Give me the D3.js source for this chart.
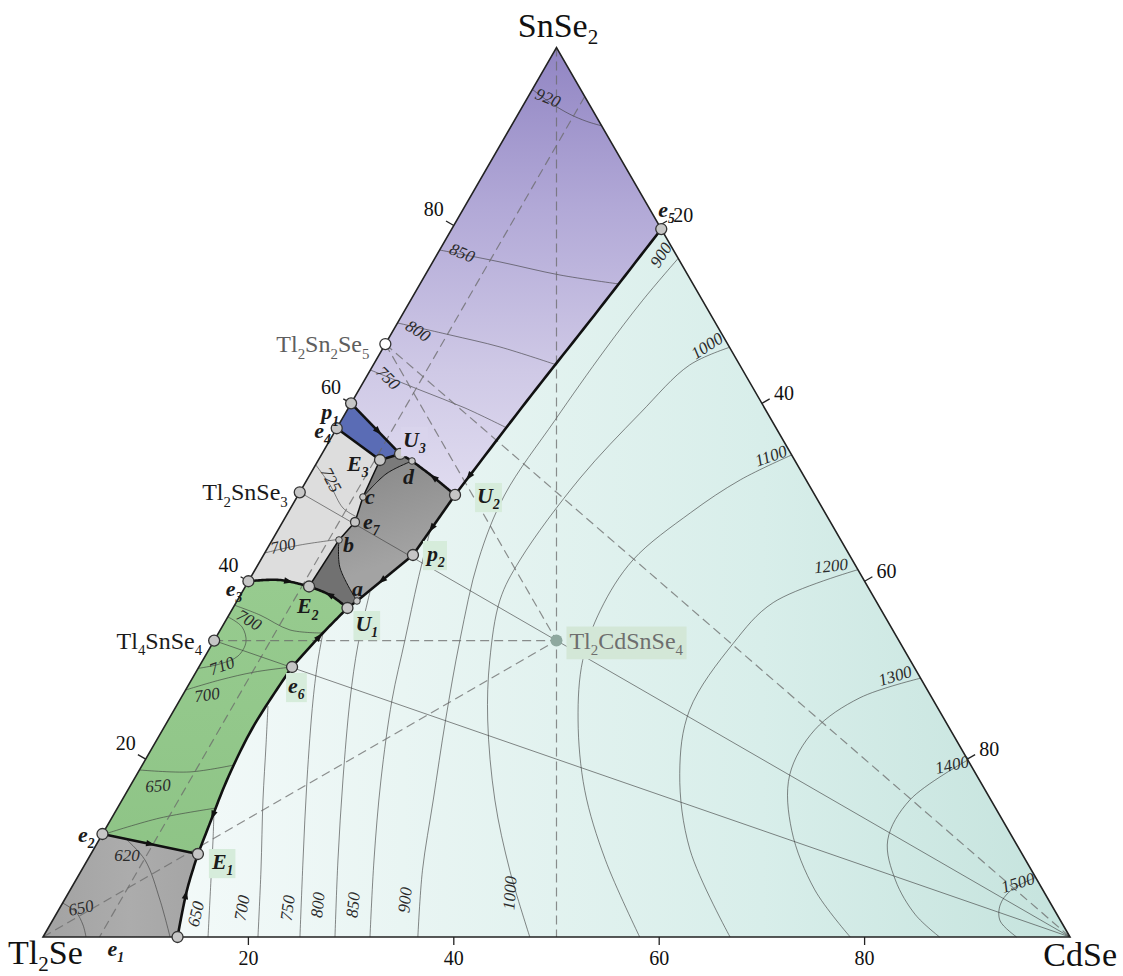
<!DOCTYPE html>
<html><head><meta charset="utf-8">
<script src="https://d3js.org/d3.v7.min.js"></script>
<style>
html,body{margin:0;padding:0;background:#fff;}
svg{display:block;}
</style></head><body>
<svg id="chart" width="1123" height="976" xmlns="http://www.w3.org/2000/svg"></svg>
<script>
// ================= DATA (compositions in mol %: [CdSe, SnSe2]) =================
const cornerNames = ["Tl2Se", "CdSe", "SnSe2"];
const cornerCd = [0, 100, 0];
const cornerSn = [0, 0, 100];

const pointNames = ["e1","e2","e3","e4","e5","e6","e7","E1","E2","E3","U1","U2","U3","p1","p2","a","b","c","d"];
const pointCd    = [13.1, 0, 0, 0, 20.4, 9.07, 7.05, 10.42, 6.2, 6.0, 11.15, 15.27, 7.61, 0, 14.55, 11.68, 6.5, 6.42, 9.17];
const pointSn    = [0, 11.58, 40, 57.2, 79.6, 30.36, 46.66, 9.33, 39.41, 53.63, 36.99, 49.7, 54.31, 60, 42.95, 37.78, 44.64, 49.47, 53.52];

const compoundNames = ["Tl2Sn2Se5", "Tl2SnSe3", "Tl4SnSe4", "Tl2CdSnSe4"];
const compoundCd = [0, 0, 0, 33.33];
const compoundSn = [66.67, 50, 33.33, 33.33];

const tickValues = [20, 40, 60, 80];

// boundary curves between primary crystallization fields
const boundaryKeys = ["e5_U2","U2_p2","p2_a","a_U1","U1_e6","e6_E1","E1_e1","e2_E1","e3_E2","E2_U1","E2_b","b_e7","e7_c","c_E3","a_b","E3_U3","U3_d","d_U2","p1_U3","e4_E3","c_d"];
const boundaryPts = [
  ["e5", [18.8, 70.3], [17.0, 60.4], "U2"],
  ["U2", "p2"],
  ["p2", "a"],
  ["a", "U1"],
  ["U1", [10.05, 33.84], "e6"],
  ["e6", [8.65, 23.61], [9.09, 17.65], [9.85, 12.82], "E1"],
  ["E1", [11.38, 5.28], "e1"],
  ["e2", "E1"],
  ["e3", [3.0, 40.14], "E2"],
  ["E2", [8.72, 38.45], "U1"],
  ["E2", "b"],
  ["b", "e7"],
  ["e7", "c"],
  ["c", "E3"],
  ["a", [8.1, 41.6], "b"],
  ["E3", "U3"],
  ["U3", "d"],
  ["d", [11.96, 51.83], "U2"],
  ["p1", "U3"],
  ["e4", "E3"],
  ["c", [7.4, 52.1], "d"]
];
const thickBoundaries = ["e5_U2","U2_p2","p2_a","a_U1","U1_e6","e6_E1","E1_e1","e2_E1","e3_E2","E2_U1","E3_U3","U3_d","d_U2","p1_U3","e4_E3"];
const mediumBoundaries = ["E2_b","b_e7","e7_c","c_E3"];

// isotherms (liquidus), each a list of [CdSe, SnSe2]
const isothermCurves = [
  [[93.3,6.7],[91.6,5.2],[91.4,3.6],[92.3,1.8],[94.8,0]],
  [[80.1,19.9],[76.7,15.4],[76.8,10.9],[79.8,6.4],[83.7,2.5],[87.3,0]],
  [[70.9,29.1],[66.1,26.9],[63.5,23.3],[63.6,18.2],[66.9,12.0],[72.5,5.3],[78.6,0]],
  [[58.7,41.3],[52.3,37.6],[50.7,33.0],[50.2,25.5],[52.8,18.4],[58.1,9.8],[66.9,0]],
  [[45.8,54.2],[42.2,51.4],[39.2,47.7],[36.25,42.4],[35.9,36.8],[37.0,31.1],[39.9,24.4],[44.5,16.5],[50.4,8.7],[58.1,0]],
  [[33.7,66.3],[30.8,64.3],[28.7,58.9],[26.5,51.6],[25.25,42.4],[25.55,37.9],[27.95,31.1],[31.1,24.4],[36.3,15.4],[41.7,7.5],[47.4,0]],
  [[23.7,76.3],[22.6,71.6],[21.7,66.0],[20.8,58.1],[20.1,49.7],[21.2,42.4],[23.9,33.4],[27.0,24.4],[30.3,15.4],[33.2,7.5],[36.5,0]],
  [[14.86,45.65],[16.44,40.14],[18.55,33.39],[20.66,26.65],[24.08,17.65],[27.9,8.66],[31.84,0]],
  [[12.44,38.79],[14.25,32.83],[16.57,26.65],[20.38,17.65],[24.39,8.66],[28.43,0]],
  [[10.17,34.18],[11.21,31.14],[12.97,26.65],[16.88,17.65],[20.99,8.66],[25.02,0]],
  [[8.92,25.97],[10.92,21.59],[13.72,15.4],[17.46,7.53],[20.93,0]],
  [[9.62,14.05],[11.1,10.91],[13.15,6.41],[16.07,0]],
  // SnSe2 field
  [[0,95.3],[2.5,93.8],[5.06,92.5],[7.1,91.7],[8.8,91.2]],
  [[0,77.24],[6.55,75.9],[13.12,74.43],[19.38,73.42]],
  [[0,69.04],[5.79,67.69],[11.33,66.34],[17.89,64.31]],
  [[0,63.75],[5.96,61.5],[11.35,59.48],[16.56,57.23]],
  // Tl4SnSe4 field
  [[0,37.3],[3.03,36.2],[6.79,34.52],[10.08,34.18]],
  [[0,36.0],[1.95,34.86],[3.18,33.17],[3.19,31.59],[1.88,30.7],[0,30.2]],
  [[0,27.77],[2.78,28.9],[5.74,29.8],[9.07,30.36]],
  [[0,18.78],[5.03,18.56],[8.93,19.34]],
  [[0.5,11.7],[4.7,13.38],[9.6,14.5]],
  // Tl2Se field
  [[2.41,11.13],[5.6,8.66],[9.31,4.16],[12.37,0]],
  [[0,3.82],[1.8,2.81],[3.22,1.35],[4.19,0]],
  // Tl2SnSe3 field
  [[0,53.1],[2.54,50.82],[5.1,48.23],[6.8,47.3]],
  [[0,43.18],[2.98,44.07],[6.4,44.7]]
];

const isoLabelText = ["900","1000","1100","1200","1300","1400","1500","650","700","750","800","850","900","1000","920","850","800","750","700","710","700","650","620","650","725","700"];
const isoLabelCd = [21.84,31.43,43.85,55.87,68.29,78.84,91.9, 13.6,17.75,22.2,24.97,28.4,33.17,43.0, 2.0,2.35,2.44,2.17, 2.24,2.19,2.37,2.71, 3.63,2.07, 2.35,1.39];
const isoLabelSn = [76.68,66.45,54.08,41.71,29.35,19.34,6.07, 2.59,3.26,3.26,3.6,3.6,4.16,4.95, 94.33,76.9,68.14,62.85, 35.64,30.47,27.21,16.98, 9.11,3.26, 51.38,43.96];

// tie lines (triangulation)
const dashedLines = [
  [[0,100],[50,0]],
  [[0,33.33],[33.33,33.33]],
  [[0,0],[33.33,33.33]],
  [[0,66.67],[33.33,33.33]],
  [[0,66.67],[100,0]],
  [[5.5,94.5],[5.5,0]]
];
const solidLines = [
  [[0,33.33],[100,0]],
  [[0,50],[100,0]]
];

// arrows on boundaries: [curve, fraction, reversed]
const arrowCurves = ["e2_E1","E1_e1","e6_E1","e3_E2","E2_U1","U1_e6","p2_a","U2_p2","e5_U2","p1_U3","d_U2"];
const arrowPos    = [0.5, 0.5, 0.8, 0.65, 0.5, 0.5, 0.55, 0.55, 0.93, 0.55, 0.5];
const arrowRev    = [false, true, false, false, true, true, false, false, false, false, true];

// ================= STYLE =================
const isoLabelRot = [-57,-33,-20,-6,-17,-12,-17, -76,-80,-82,-84,-84,-84,-86, 22,22,33,45, 30,-20,-8,-5, 0,-12, 62,-12];
const pointOffsets = {
  e1:[-70,19,'start'], E1:[14,15,'start'], e2:[-8,8,'end'], e3:[-6,15,'end'], E2:[-12,27,'start'],
  U1:[8,23,'start'], e6:[-4,26,'start'], p2:[14,6,'start'], a:[-5,-5,'start'], b:[4,12,'start'],
  e7:[8,7,'start'], c:[2,7,'start'], d:[-9,23,'start'], E3:[-33,11,'start'], U3:[3,-7,'start'],
  U2:[22,8,'start'], p1:[-12,16,'end'], e4:[-6,10,'end'], e5:[-3,-12,'start']
};
const greenBgLabels = ["E1","U1","U2","p2","e6"];
const purpleBgLabels = ["U3"];
const smallPoints = ["a","b","c","d"];
const FONT = "'Liberation Serif','Times New Roman',serif";

// ================= SCALES =================
const xS = d3.scaleLinear().domain([0,100]).range([43,1070]);
const yS = d3.scaleLinear().domain([0,100]).range([937, 937 - 1027*Math.sqrt(3)/2]);
const P = c => [xS(c[0] + c[1]/2), yS(c[1])];

const pt = {};
pointNames.forEach((n,i) => pt[n] = [pointCd[i], pointSn[i]]);
const resolve = v => (typeof v === 'string') ? pt[v] : v;
const curves = {};
boundaryKeys.forEach((k,i) => curves[k] = boundaryPts[i].map(resolve));

const svg = d3.select('#chart');
const defs = svg.append('defs');
const curveGen = d3.line().curve(d3.curveCatmullRom.alpha(0.5));
const tmpPath = svg.append('path').attr('visibility','hidden');

function sampleCurve(pts, n) {
  const pix = pts.map(P);
  if (pix.length === 2) return pix;
  tmpPath.attr('d', curveGen(pix));
  const node = tmpPath.node(), L = node.getTotalLength(), out = [];
  for (let i = 0; i <= n; i++) { const p = node.getPointAtLength(L*i/n); out.push([p.x, p.y]); }
  return out;
}
const dense = {};
boundaryKeys.forEach(k => dense[k] = sampleCurve(curves[k], 40));

// ---- gradients
function linGrad(id, x1,y1,x2,y2, stops) {
  const g = defs.append('linearGradient').attr('id', id).attr('gradientUnits','userSpaceOnUse')
    .attr('x1',x1).attr('y1',y1).attr('x2',x2).attr('y2',y2);
  stops.forEach(s => g.append('stop').attr('offset', s[0]).attr('stop-color', s[1]));
}
linGrad('gCd', xS(0), 0, xS(100), 0, [[0,'#f8fcfc'],[0.35,'#e9f5f3'],[0.7,'#d8eeea'],[1,'#c5e3dd']]);
linGrad('gPurple', 0, yS(100), 0, yS(48), [[0,'#9185c3'],[0.35,'#b2a9d7'],[0.7,'#cfc9e6'],[1,'#e2def1']]);
linGrad('gGreen', 0, yS(40), 0, yS(8), [[0,'#97cb8f'],[1,'#8ec486']]);
linGrad('gMed', P(pt.E3)[0], P(pt.E3)[1], P(pt.p2)[0], P(pt.p2)[1], [[0,'#8a8a8a'],[1,'#a3a3a3']]);
linGrad('gBot', xS(0), 0, xS(14), 0, [[0,'#a2a2a2'],[0.6,'#acacac'],[1,'#a6a6a6']]);

// ---- background triangle (CdSe field)
const triPts = cornerNames.map((n,i) => P([cornerCd[i], cornerSn[i]]));
svg.append('path').attr('d', 'M' + triPts.join('L') + 'Z').attr('fill', 'url(#gCd)');

// ---- regions
function buildRegion(seq) {
  let out = [];
  seq.forEach(s => {
    if (typeof s === 'string') {
      const rev = s[0] === '-';
      const arr = dense[rev ? s.slice(1) : s].slice();
      if (rev) arr.reverse();
      out = out.concat(arr);
    } else out.push(P(s));
  });
  return 'M' + out.map(p => p[0].toFixed(2) + ',' + p[1].toFixed(2)).join('L') + 'Z';
}
const regions = [
  {fill:'url(#gPurple)', seq:[[0,100],[0,60],'p1_U3','U3_d','d_U2','-e5_U2']},
  {fill:'#5a6cb5', seq:['p1_U3','-E3_U3','-e4_E3']},
  {fill:'#dddddd', seq:['e4_E3','-c_E3','-e7_c','-b_e7','-E2_b','-e3_E2']},
  {fill:'url(#gMed)', seq:['E3_U3','U3_d','d_U2','U2_p2','p2_a','a_b','b_e7','e7_c','c_E3']},
  {fill:'#7b7b7b', seq:['E3_U3','U3_d','-c_d','c_E3']},
  {fill:'#717171', seq:['E2_b','-a_b','a_U1','-E2_U1']},
  {fill:'url(#gGreen)', seq:['e3_E2','E2_U1','U1_e6','e6_E1','-e2_E1']},
  {fill:'url(#gBot)', seq:['e2_E1','E1_e1',[0,0]]}
];
svg.append('g').selectAll('path').data(regions).join('path')
  .attr('d', d => buildRegion(d.seq)).attr('fill', d => d.fill);

// ---- isotherms
svg.append('g').selectAll('path').data(isothermCurves).join('path')
  .attr('d', d => curveGen(d.map(P)))
  .attr('fill','none').attr('stroke','#3a3a3a').attr('stroke-opacity',0.6).attr('stroke-width',1);

// ---- tie lines
svg.append('g').selectAll('path').data(dashedLines).join('path')
  .attr('d', d => d3.line()(d.map(P)))
  .attr('fill','none').attr('stroke','#6a6a6a').attr('stroke-opacity',0.75).attr('stroke-width',1.2)
  .attr('stroke-dasharray','9,5');
svg.append('g').selectAll('path').data(solidLines).join('path')
  .attr('d', d => d3.line()(d.map(P)))
  .attr('fill','none').attr('stroke','#3a3a3a').attr('stroke-opacity',0.6).attr('stroke-width',1);

// ---- boundaries
const bG = svg.append('g');
boundaryKeys.forEach(k => {
  const w = thickBoundaries.includes(k) ? 2.6 : (mediumBoundaries.includes(k) ? 1.5 : 1);
  bG.append('path').attr('d', d3.line()(dense[k])).attr('fill','none')
    .attr('stroke','#111').attr('stroke-width', w).attr('stroke-linejoin','round');
});

// ---- triangle border
svg.append('path').attr('d', 'M' + triPts.join('L') + 'Z').attr('fill','none')
  .attr('stroke','#222').attr('stroke-width',1.6);

// ---- ticks
const tG = svg.append('g').attr('font-family', FONT).attr('font-size', 20).attr('fill','#111');
tickValues.forEach(v => {
  const b = P([v,0]);
  tG.append('line').attr('x1',b[0]).attr('y1',b[1]).attr('x2',b[0]).attr('y2',b[1]+8).attr('stroke','#222').attr('stroke-width',1.3);
  tG.append('text').attr('x',b[0]).attr('y',b[1]+28).attr('text-anchor','middle').text(v);
  const l = P([0,v]);
  tG.append('line').attr('x1',l[0]).attr('y1',l[1]).attr('x2',l[0]-7.8).attr('y2',l[1]-4.5).attr('stroke','#222').attr('stroke-width',1.3);
  tG.append('text').attr('x',l[0]-10).attr('y',l[1]-9).attr('text-anchor','end').text(v);
  const r = P([v,100-v]);
  tG.append('line').attr('x1',r[0]).attr('y1',r[1]).attr('x2',r[0]+7.8).attr('y2',r[1]-4.5).attr('stroke','#222').attr('stroke-width',1.3);
  tG.append('text').attr('x',r[0]+ (v===20 ? 14 : 12)).attr('y',r[1]-3).attr('text-anchor','start').text(v);
});

// ---- arrows
const aG = svg.append('g');
arrowCurves.forEach((k,i) => {
  tmpPath.attr('d', d3.line()(dense[k]));
  const node = tmpPath.node(), L = node.getTotalLength();
  const s = arrowPos[i]*L;
  const p = node.getPointAtLength(s), q = node.getPointAtLength(Math.min(L, s+2)), o = node.getPointAtLength(Math.max(0, s-2));
  let dx = q.x - o.x, dy = q.y - o.y; const m = Math.hypot(dx,dy); dx/=m; dy/=m;
  if (arrowRev[i]) { dx=-dx; dy=-dy; }
  const tip = [p.x+dx*5, p.y+dy*5], b1 = [p.x-dx*4-dy*3.2, p.y-dy*4+dx*3.2], b2 = [p.x-dx*4+dy*3.2, p.y-dy*4-dx*3.2];
  aG.append('path').attr('d', 'M'+tip+'L'+b1+'L'+b2+'Z').attr('fill','#111');
});

// ---- text helper with subscripts
function formula(textSel, str, size, shift) {
  const sh = shift === undefined ? 0.28 : shift;
  const runs = str.match(/(\d+|\D+)/g);
  let shifted = false;
  runs.forEach(r => {
    const isDig = /^\d+$/.test(r);
    const ts = textSel.append('tspan').text(r);
    if (isDig) { ts.attr('font-size', size*0.62).attr('dy', size*sh); shifted = true; }
    else { if (shifted) ts.attr('dy', -size*sh); shifted = false; }
  });
}
function addBg(textSel, color, padX, padY) {
  const bb = textSel.node().getBBox();
  const r = document.createElementNS('http://www.w3.org/2000/svg','rect');
  r.setAttribute('x', bb.x - padX); r.setAttribute('y', bb.y - padY);
  r.setAttribute('width', bb.width + 2*padX); r.setAttribute('height', bb.height + 2*padY);
  r.setAttribute('fill', color);
  textSel.node().parentNode.insertBefore(r, textSel.node());
}

// ---- isotherm labels
const ilG = svg.append('g').attr('font-family', FONT).attr('font-style','italic').attr('font-size',17).attr('fill','#2b2b2b');
isoLabelText.forEach((t,i) => {
  const p = P([isoLabelCd[i], isoLabelSn[i]]);
  ilG.append('text').attr('transform', `translate(${p[0]},${p[1]}) rotate(${isoLabelRot[i]})`)
    .attr('text-anchor','middle').attr('dominant-baseline','central').text(t);
});

// ---- compound points
const cG = svg.append('g');
const compLabel = svg.append('g').attr('font-family', FONT).attr('font-size', 24);
compoundNames.forEach((n,i) => {
  const p = P([compoundCd[i], compoundSn[i]]);
  if (n === 'Tl2CdSnSe4') {
    const t = compLabel.append('text').attr('x', p[0]+13).attr('y', p[1]+8).attr('fill','#6e6e6e');
    formula(t, n, 24);
    addBg(t, '#d3e7d7', 3, 1);
    cG.append('circle').attr('cx',p[0]).attr('cy',p[1]).attr('r',6).attr('fill','#8ea89f');
  } else {
    const t = compLabel.append('text').attr('x', p[0] - (n==='Tl2Sn2Se5' ? 16 : 12)).attr('y', p[1]+8)
      .attr('text-anchor','end').attr('fill', n==='Tl2Sn2Se5' ? '#5e5e5e' : '#1a1a1a');
    formula(t, n, 24);
    cG.append('circle').attr('cx',p[0]).attr('cy',p[1]).attr('r',5.5)
      .attr('fill', n==='Tl2Sn2Se5' ? '#ffffff' : '#c6c6c6').attr('stroke','#333').attr('stroke-width',1.3);
  }
});

// ---- invariant points
const pG = svg.append('g');
pointNames.forEach(n => {
  const p = P(pt[n]);
  const small = smallPoints.includes(n);
  pG.append('circle').attr('cx',p[0]).attr('cy',p[1]).attr('r', small ? 3.3 : (n==='e7' ? 4.5 : 5.5))
    .attr('fill','#c6c6c6').attr('stroke','#333').attr('stroke-width', small ? 1 : 1.3);
});
const plG = svg.append('g').attr('font-family', FONT).attr('font-weight','bold').attr('font-style','italic')
  .attr('font-size', 22).attr('fill','#1a1a1a');
pointNames.forEach(n => {
  const p = P(pt[n]);
  const o = pointOffsets[n];
  const t = plG.append('text').attr('x', p[0]+o[0]).attr('y', p[1]+o[1]).attr('text-anchor', o[2]);
  formula(t, n, n.length === 1 ? 19 : 22);
  if (greenBgLabels.includes(n)) addBg(t, '#d6ecdb', 2, 0);
  if (purpleBgLabels.includes(n)) addBg(t, '#d9d4ec', 2, 0);
});

// ---- corner labels
const kG = svg.append('g').attr('font-family', FONT).attr('font-size', 34).attr('fill','#111');
const cornerPos = [[8,964,'start'],[1117,966,'end'],[558,37,'middle']];
cornerNames.forEach((n,i) => {
  const t = kG.append('text').attr('x', cornerPos[i][0]).attr('y', cornerPos[i][1]).attr('text-anchor', cornerPos[i][2]);
  formula(t, n, 34, 0.2);
});
tmpPath.remove();
</script>
</body></html>
